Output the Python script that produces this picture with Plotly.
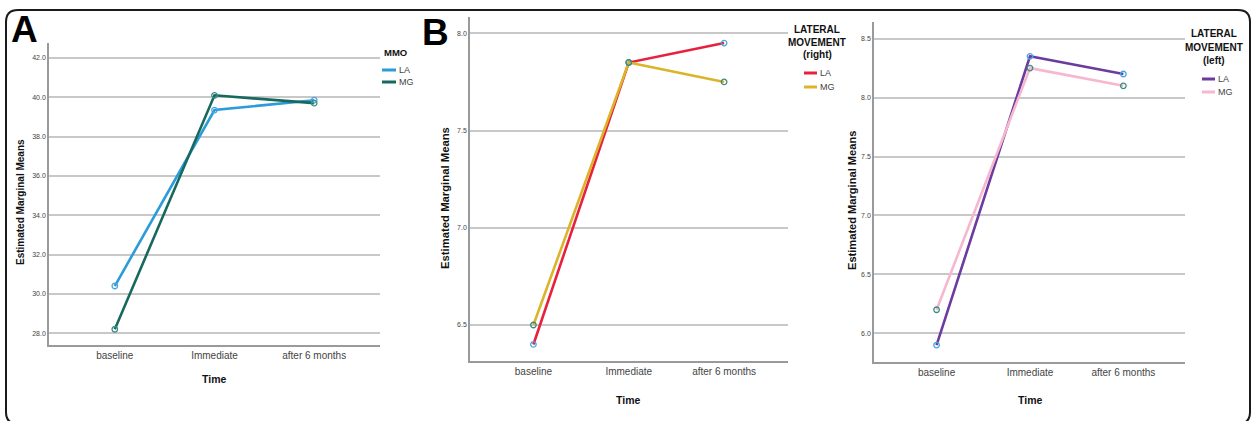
import plotly.graph_objects as go

W, H = 1252, 421

# ---------------- data ----------------
time_points = ["baseline", "Immediate", "after 6 months"]
groups = ["LA", "MG"]

mmo_la = [30.4, 39.35, 39.85]
mmo_mg = [28.2, 40.1, 39.7]

lat_right_la = [6.40, 7.85, 7.95]
lat_right_mg = [6.50, 7.85, 7.75]

lat_left_la = [5.90, 8.35, 8.20]
lat_left_mg = [6.20, 8.25, 8.10]

mmo_ticks = [28.0, 30.0, 32.0, 34.0, 36.0, 38.0, 40.0, 42.0]
right_ticks = [6.5, 7.0, 7.5, 8.0]
left_ticks = [6.0, 6.5, 7.0, 7.5, 8.0, 8.5]

legend_titles = ["MMO", "LATERAL<br>MOVEMENT<br>(right)", "LATERAL<br>MOVEMENT<br>(left)"]
panel_letters = ["A", "B"]

# ---------------- style ----------------
FONT = "Liberation Sans Narrow, Liberation Sans, Arial, sans-serif"
colors = [("#2b9bd9", "#17695d"), ("#e8203d", "#dcb42a"), ("#6b3c9e", "#f6b7cf")]
marker_cols = ("#4aa6e0", "#3a8c80")
GRID = "#c8c8c8"
AXIS = "#9a9a9a"


def px(x):
    return x / W


def py(y):
    return 1 - y / H


panels = [
    dict(data=(mmo_la, mmo_mg), ticks=mmo_ticks, fmt=".1f",
         xdom=(49, 380), ydom=(345, 43), yr=(27.4, 42.76), xr=(-0.66, 2.66),
         ytitle=(20, 202, 10), xtitle=(214, 379)),
    dict(data=(lat_right_la, lat_right_mg), ticks=right_ticks, fmt=".1f",
         xdom=(470, 788), ydom=(361, 17), yr=(6.315, 8.084), xr=(-0.665, 2.67),
         ytitle=(445, 198, 11.3), xtitle=(628, 400)),
    dict(data=(lat_left_la, lat_left_mg), ticks=left_ticks, fmt=".1f",
         xdom=(874, 1185), ydom=(362, 22), yr=(5.757, 8.641), xr=(-0.67, 2.66),
         ytitle=(852, 201, 11.1), xtitle=(1030, 400)),
]

fig = go.Figure()
annotations = []
shapes = []

for i, p in enumerate(panels):
    sfx = "" if i == 0 else str(i + 1)
    xa, ya = "x" + sfx, "y" + sfx
    for g, vals in enumerate(p["data"]):
        fig.add_trace(go.Scatter(
            x=time_points, y=vals, mode="lines", name=groups[g],
            line=dict(color=colors[i][g], width=2.6),
            xaxis=xa, yaxis=ya, showlegend=False, hoverinfo="skip"))
    for g, vals in enumerate(p["data"]):
        fig.add_trace(go.Scatter(
            x=time_points, y=vals, mode="markers", name=groups[g],
            marker=dict(symbol="circle-open", size=5.5, color=marker_cols[g],
                        line=dict(width=1.3, color=marker_cols[g])),
            xaxis=xa, yaxis=ya, showlegend=False))

    fig.update_layout(**{
        "xaxis" + sfx: dict(
            domain=[px(p["xdom"][0]), px(p["xdom"][1])], anchor=ya,
            type="category", categoryorder="array", categoryarray=time_points,
            range=list(p["xr"]), showgrid=False, showline=True,
            linecolor=AXIS, linewidth=1.5, ticks="", zeroline=False,
            tickfont=dict(family=FONT, size=10, color="#444")),
        "yaxis" + sfx: dict(
            domain=[py(p["ydom"][0]), py(p["ydom"][1])], anchor=xa,
            range=list(p["yr"]), tickvals=p["ticks"], tickformat=p["fmt"],
            showgrid=True, gridcolor=GRID, gridwidth=1.6, showline=True,
            linecolor=AXIS, linewidth=1.5, ticks="", zeroline=False,
            tickfont=dict(family=FONT, size=7, color="#444")),
    })

    tx, tyy, tsize = p["ytitle"]
    annotations.append(dict(
        x=px(tx), y=py(tyy), xref="paper", yref="paper", text="<b>Estimated Marginal Means</b>",
        textangle=-90, showarrow=False, font=dict(family=FONT, size=tsize, color="#111"),
        xanchor="center", yanchor="middle"))
    annotations.append(dict(
        x=px(p["xtitle"][0]), y=py(p["xtitle"][1]), xref="paper", yref="paper",
        text="<b>Time</b>", showarrow=False, font=dict(family=FONT, size=10.5, color="#111"),
        xanchor="center", yanchor="middle"))

# legends (titles + swatches)
legend_specs = [
    dict(cx=395, ty=[53], sw=(382, 396), sy=(70, 82), tsize=9.5),
    dict(cx=817, ty=[29, 42, 55], sw=(804, 817), sy=(73, 87), tsize=10),
    dict(cx=1214, ty=[33, 47, 60], sw=(1202, 1215), sy=(79, 92), tsize=10),
]
for i, L in enumerate(legend_specs):
    for k, line in enumerate(legend_titles[i].split("<br>")):
        annotations.append(dict(
            x=px(L["cx"]), y=py(L["ty"][k]), xref="paper", yref="paper",
            text="<b>" + line + "</b>", showarrow=False,
            font=dict(family=FONT, size=L["tsize"], color="#111"),
            xanchor="center", yanchor="middle"))
    for g in range(2):
        shapes.append(dict(type="line", xref="paper", yref="paper",
                           x0=px(L["sw"][0]), x1=px(L["sw"][1]),
                           y0=py(L["sy"][g]), y1=py(L["sy"][g]),
                           line=dict(color=colors[i][g], width=3)))
        annotations.append(dict(
            x=px(L["sw"][1] + 1), y=py(L["sy"][g]), xref="paper", yref="paper",
            text=groups[g], showarrow=False,
            font=dict(family=FONT, size=9, color="#444"),
            xanchor="left", yanchor="middle"))

# panel letters
for letter, (lx, ly) in zip(panel_letters, [(24, 29), (435, 32)]):
    annotations.append(dict(
        x=px(lx), y=py(ly), xref="paper", yref="paper", text="<b>" + letter + "</b>",
        showarrow=False, font=dict(family="Liberation Sans Narrow, Liberation Sans, Arial", size=37, color="#000"),
        xanchor="center", yanchor="middle"))

# rounded frame
r = 12
L_, R_, T_, B_ = 6, 1250, 10, 424
path = (f"M {px(L_)},{py(B_ - r)} L {px(L_)},{py(T_ + r)} "
        f"Q {px(L_)},{py(T_)} {px(L_ + r)},{py(T_)} "
        f"L {px(R_ - r)},{py(T_)} Q {px(R_)},{py(T_)} {px(R_)},{py(T_ + r)} "
        f"L {px(R_)},{py(B_ - r)} Q {px(R_)},{py(B_)} {px(R_ - r)},{py(B_)} "
        f"L {px(L_ + r)},{py(B_)} Q {px(L_)},{py(B_)} {px(L_)},{py(B_ - r)} Z")
shapes.append(dict(type="path", xref="paper", yref="paper", path=path,
                   line=dict(color="#1a1a1a", width=2)))

fig.update_layout(
    width=W, height=H, margin=dict(l=0, r=0, t=0, b=0),
    paper_bgcolor="white", plot_bgcolor="white",
    showlegend=False, annotations=annotations, shapes=shapes,
    font=dict(family=FONT),
)

fig.write_html("out.html", config={"displayModeBar": False},
               post_script="document.body.style.margin='0';document.body.style.overflow='hidden';")
